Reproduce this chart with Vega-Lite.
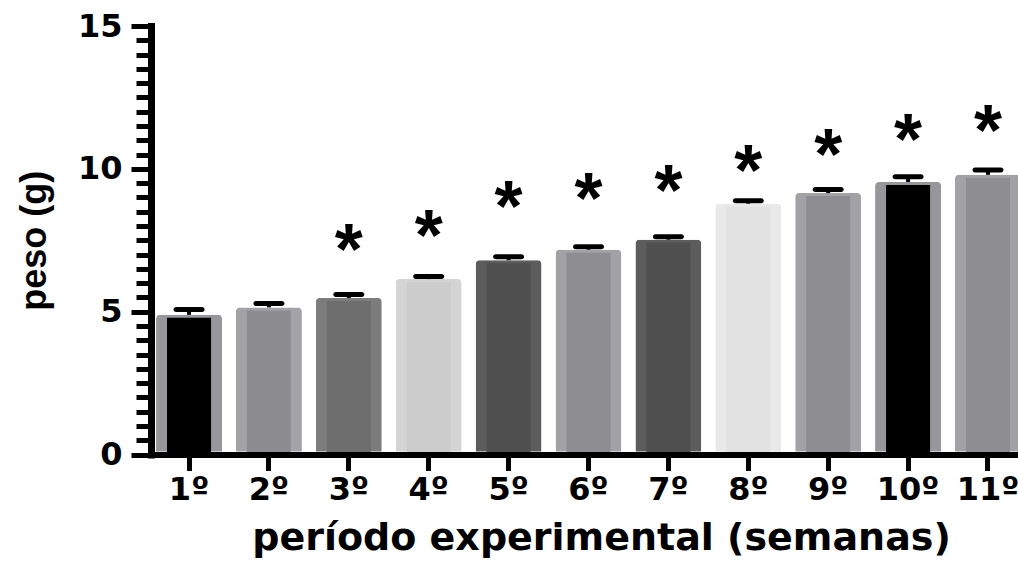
{
  "$schema": "https://vega.github.io/schema/vega-lite/v6.json",
  "autosize": "none",
  "width": 875,
  "height": 428.5,
  "padding": {"left": 151, "top": 26, "right": -8, "bottom": 108.5},
  "background": "white",
  "config": {"view": {"stroke": null}},
  "data": {"values": [
    {"semana": "1º", "mean": 4.89, "upper": 5.08, "star": null},
    {"semana": "2º", "mean": 5.15, "upper": 5.29, "star": null},
    {"semana": "3º", "mean": 5.48, "upper": 5.60, "star": 7.45},
    {"semana": "4º", "mean": 6.14, "upper": 6.23, "star": 7.93},
    {"semana": "5º", "mean": 6.80, "upper": 6.92, "star": 8.93},
    {"semana": "6º", "mean": 7.17, "upper": 7.27, "star": 9.23},
    {"semana": "7º", "mean": 7.52, "upper": 7.62, "star": 9.49},
    {"semana": "8º", "mean": 8.78, "upper": 8.88, "star": 10.19},
    {"semana": "9º", "mean": 9.15, "upper": 9.28, "star": 10.77},
    {"semana": "10º", "mean": 9.54, "upper": 9.72, "star": 11.30},
    {"semana": "11º", "mean": 9.79, "upper": 9.96, "star": 11.59}
  ]},
  "resolve": {"scale": {"fill": "independent"}, "axis": {"y": "independent"}},
  "layer": [
    {
      "mark": {"type": "bar", "yOffset": -3, "cornerRadius": 4},
      "encoding": {
        "x": {"field": "semana", "type": "nominal", "sort": null,
          "scale": {"paddingInner": 0.174, "paddingOuter": 0.063},
          "axis": {"title": "período experimental (semanas)", "titleFont": "DejaVu Sans", "titleFontSize": 38, "titleFontWeight": "bold", "titleColor": "black", "titlePadding": 14, "titleX": 450,
            "labelFont": "DejaVu Sans", "labelFontSize": 32, "labelFontWeight": "bold", "labelColor": "black", "labelAngle": 0, "labelPadding": 4, "labelOverlap": false, "labelBound": false, "labelFlush": false,
            "tickSize": 16, "tickWidth": 5, "tickColor": "black", "domainColor": "black", "domainWidth": 6, "domainCap": "square", "zindex": 2}},
        "y": {"field": "mean", "type": "quantitative", "scale": {"domain": [0, 15], "nice": false},
          "axis": {"values": [0, 5, 10, 15], "title": "peso (g)", "titleFont": "Liberation Sans", "titleFontSize": 36, "titleFontWeight": "bold", "titleColor": "black", "titlePadding": 24,
            "labelFont": "DejaVu Sans", "labelFontSize": 32, "labelFontWeight": "bold", "labelColor": "black", "labelPadding": 9,
            "tickSize": 20, "tickWidth": 5, "tickColor": "black", "domainColor": "black", "domainWidth": 7, "domainCap": "square", "grid": false, "zindex": 2}},
        "fill": {"field": "semana", "type": "nominal", "sort": null, "legend": null,
          "scale": {"domain": ["1º","2º","3º","4º","5º","6º","7º","8º","9º","10º","11º"],
            "range": ["#97979b","#a3a3a7","#7c7c7c","#d4d4d4","#5c5c5c","#a2a2a6","#5c5c5c","#e9e9e9","#a2a2a6","#97979b","#a2a2a6"]}}
      }
    },
    {
      "mark": {"type": "bar", "yOffset": 3, "width": {"band": 0.667}, "clip": true},
      "encoding": {
        "x": {"field": "semana", "type": "nominal", "sort": null},
        "y": {"field": "mean", "type": "quantitative",
          "axis": {"values": [0,0.5,1,1.5,2,2.5,3,3.5,4,4.5,5,5.5,6,6.5,7,7.5,8,8.5,9,9.5,10,10.5,11,11.5,12,12.5,13,13.5,14,14.5,15], "orient": "left", "labels": false, "title": null, "domain": false, "grid": false, "tickSize": 15, "tickWidth": 5, "tickColor": "black", "zindex": 2}},
        "fill": {"field": "semana", "type": "nominal", "sort": null, "legend": null,
          "scale": {"domain": ["1º","2º","3º","4º","5º","6º","7º","8º","9º","10º","11º"],
            "range": ["#000000","#8d8d91","#6e6e6e","#cccccc","#4f4f4f","#8e8e92","#4f4f4f","#e2e2e2","#8e8e92","#000000","#8e8e92"]}}
      }
    },
    {
      "mark": {"type": "rule", "strokeWidth": 4, "color": "black"},
      "encoding": {
        "x": {"field": "semana", "type": "nominal", "sort": null},
        "y": {"field": "mean", "type": "quantitative", "axis": null},
        "y2": {"field": "upper"}
      }
    },
    {
      "mark": {"type": "tick", "size": 31, "thickness": 5, "cornerRadius": 2.5, "color": "black", "opacity": 1},
      "encoding": {
        "x": {"field": "semana", "type": "nominal", "sort": null},
        "y": {"field": "upper", "type": "quantitative", "axis": null}
      }
    },
    {
      "transform": [{"filter": "isValid(datum.star)"}],
      "mark": {"type": "text", "text": "*", "font": "Liberation Sans", "fontWeight": "bold", "fontSize": 72, "color": "black", "baseline": "alphabetic", "dy": 32},
      "encoding": {
        "x": {"field": "semana", "type": "nominal", "sort": null},
        "y": {"field": "star", "type": "quantitative", "axis": null}
      }
    }
  ]
}
